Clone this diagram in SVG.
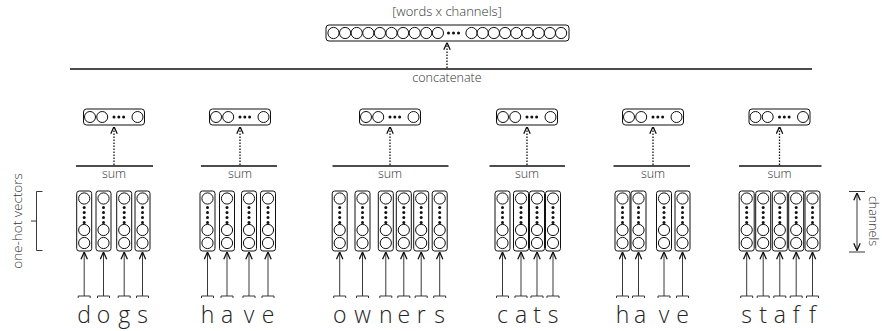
<svg xmlns="http://www.w3.org/2000/svg" xmlns:xlink="http://www.w3.org/1999/xlink" width="882" height="331" viewBox="0 0 882 331">
<style>
  .box{fill:#fff;stroke:#111;stroke-width:1}
  .cir{fill:#fff;stroke:#111;stroke-width:1}
  .dot{fill:#111}
  .bar{stroke:#111;stroke-width:1.6;fill:none}
  .thin{stroke:#222;stroke-width:0.9;fill:none}
  .dash{stroke:#111;stroke-width:1.3;stroke-dasharray:1.5 1.5;fill:none}
  .lbl{font-family:"Open Sans","Noto Sans","DejaVu Sans",sans-serif;font-weight:300;font-size:12.5px;fill:#333;text-anchor:middle}
  .ch{font-family:"Open Sans","Noto Sans","DejaVu Sans",sans-serif;font-weight:300;font-size:23px;fill:#222;text-anchor:middle}
</style>
<defs>
  <marker id="open" viewBox="0 0 10 10" refX="10" refY="5" markerUnits="userSpaceOnUse" markerWidth="8" markerHeight="8" orient="auto-start-reverse">
    <path d="M1,1 L10,5 L1,9" fill="none" stroke="#111" stroke-width="1.6"/>
  </marker>
  <g id="col">
    <rect class="box" x="-7.5" y="191" width="15" height="60" rx="2.5"/>
    <circle class="cir" cx="0" cy="198.5" r="5.6"/>
    <circle class="dot" cx="0" cy="207.5" r="1.5"/>
    <circle class="dot" cx="0" cy="212.5" r="1.5"/>
    <circle class="dot" cx="0" cy="217.5" r="1.5"/>
    <circle class="dot" cx="0" cy="222.5" r="1.5"/>
    <circle class="cir" cx="0" cy="230" r="5.6"/>
    <circle class="cir" cx="0" cy="243" r="5.6"/>
  </g>
  <g id="vec">
    <rect class="box" x="-30.5" y="109" width="61" height="16" rx="3"/>
    <circle class="cir" cx="-24" cy="117" r="5.5"/>
    <circle class="cir" cx="-11.8" cy="117" r="5.5"/>
    <circle class="dot" cx="0" cy="117" r="1.5"/>
    <circle class="dot" cx="4.8" cy="117" r="1.5"/>
    <circle class="dot" cx="9.6" cy="117" r="1.5"/>
    <circle class="cir" cx="23.5" cy="117" r="5.5"/>
  </g>
  <g id="inarrow">
    <line class="thin" x1="0" y1="296" x2="0" y2="252" marker-end="url(#open)"/>
    <path class="thin" d="M-6,298 V296 H6 V298"/>
  </g>
</defs>

<!-- top output -->
<g id="output">
  <text class="lbl" x="447" y="16" style="font-size:13px">[words x channels]</text>
  <rect class="box" x="326" y="25" width="243" height="16" rx="3"/>
  <g class="cir">
    <circle cx="333.5" cy="33" r="5.6"/><circle cx="345.1" cy="33" r="5.6"/><circle cx="356.7" cy="33" r="5.6"/><circle cx="368.3" cy="33" r="5.6"/><circle cx="379.9" cy="33" r="5.6"/>
    <circle cx="391.5" cy="33" r="5.6"/><circle cx="403.1" cy="33" r="5.6"/><circle cx="414.7" cy="33" r="5.6"/><circle cx="426.3" cy="33" r="5.6"/><circle cx="437.9" cy="33" r="5.6"/>
    <circle cx="471.5" cy="33" r="5.6"/><circle cx="482.7" cy="33" r="5.6"/><circle cx="493.9" cy="33" r="5.6"/><circle cx="505.1" cy="33" r="5.6"/><circle cx="516.3" cy="33" r="5.6"/>
    <circle cx="527.5" cy="33" r="5.6"/><circle cx="538.7" cy="33" r="5.6"/><circle cx="549.9" cy="33" r="5.6"/><circle cx="561.1" cy="33" r="5.6"/>
  </g>
  <circle class="dot" cx="448.5" cy="33" r="1.5"/><circle class="dot" cx="453.5" cy="33" r="1.5"/><circle class="dot" cx="458.5" cy="33" r="1.5"/>
</g>

<g id="concatenate">
  <line class="bar" x1="70" y1="69" x2="812" y2="69"/>
  <text class="lbl" x="447" y="82">concatenate</text>
</g>

<!-- word groups -->
<g id="word-dogs">
  <use xlink:href="#vec" x="114"/>
  <line class="bar" x1="76" y1="166" x2="153" y2="166"/>
  <text class="lbl" x="114" y="178">sum</text>
  <use xlink:href="#col" x="84.2"/><use xlink:href="#col" x="103.5"/><use xlink:href="#col" x="124.2"/><use xlink:href="#col" x="142.5"/>
  <text class="ch" x="84.2" y="323">d</text><text class="ch" x="103.5" y="323">o</text><text class="ch" x="124.2" y="323">g</text><text class="ch" x="142.5" y="323">s</text>
</g>
<g id="word-have-1">
  <use xlink:href="#vec" x="240"/>
  <line class="bar" x1="201" y1="166" x2="277" y2="166"/>
  <text class="lbl" x="240" y="178">sum</text>
  <use xlink:href="#col" x="207.5"/><use xlink:href="#col" x="227"/><use xlink:href="#col" x="249"/><use xlink:href="#col" x="268"/>
  <text class="ch" x="207.5" y="323">h</text><text class="ch" x="227" y="323">a</text><text class="ch" x="249" y="323">v</text><text class="ch" x="268" y="323">e</text>
</g>
<g id="word-owners">
  <use xlink:href="#vec" x="390"/>
  <line class="bar" x1="332.5" y1="166" x2="448.5" y2="166"/>
  <text class="lbl" x="390" y="178">sum</text>
  <use xlink:href="#col" x="339.7"/><use xlink:href="#col" x="362.5"/><use xlink:href="#col" x="385.8"/><use xlink:href="#col" x="403.8"/><use xlink:href="#col" x="421.2"/><use xlink:href="#col" x="439.7"/>
  <text class="ch" x="339.7" y="323">o</text><text class="ch" x="362.5" y="323">w</text><text class="ch" x="385.8" y="323">n</text><text class="ch" x="403.8" y="323">e</text><text class="ch" x="421.2" y="323">r</text><text class="ch" x="439.7" y="323">s</text>
</g>
<g id="word-cats">
  <use xlink:href="#vec" x="527"/>
  <line class="bar" x1="489.5" y1="166" x2="565" y2="166"/>
  <text class="lbl" x="527" y="178">sum</text>
  <use xlink:href="#col" x="502.5"/><use xlink:href="#col" x="521"/><use xlink:href="#col" x="537"/><use xlink:href="#col" x="553"/>
  <text class="ch" x="502.5" y="323">c</text><text class="ch" x="521" y="323">a</text><text class="ch" x="537" y="323">t</text><text class="ch" x="553" y="323">s</text>
</g>
<g id="word-have-2">
  <use xlink:href="#vec" x="653"/>
  <line class="bar" x1="613.5" y1="166" x2="690" y2="166"/>
  <text class="lbl" x="653" y="178">sum</text>
  <use xlink:href="#col" x="622.5"/><use xlink:href="#col" x="638.5"/><use xlink:href="#col" x="664"/><use xlink:href="#col" x="682.5"/>
  <text class="ch" x="622.5" y="323">h</text><text class="ch" x="640" y="323">a</text><text class="ch" x="664" y="323">v</text><text class="ch" x="682.5" y="323">e</text>
</g>
<g id="word-staff">
  <use xlink:href="#vec" x="779.5"/>
  <line class="bar" x1="739" y1="166" x2="821.5" y2="166"/>
  <text class="lbl" x="779.5" y="178">sum</text>
  <use xlink:href="#col" x="746.7"/><use xlink:href="#col" x="763.2"/><use xlink:href="#col" x="779.8"/><use xlink:href="#col" x="796.2"/><use xlink:href="#col" x="812.5"/>
  <text class="ch" x="746.7" y="323">s</text><text class="ch" x="763.2" y="323">t</text><text class="ch" x="779.8" y="323">a</text><text class="ch" x="796.2" y="323">f</text><text class="ch" x="812.5" y="323">f</text>
</g>

<!-- annotations -->
<g id="one-hot-label">
  <path class="thin" d="M42.5,191.5 H36.5 V250.5 H42.5 M36.5,221 H31"/>
  <text class="lbl" transform="translate(22,221) rotate(-90)" style="font-size:13.5px">one-hot vectors</text>
</g>
<g id="channels-label">
  <line class="thin" x1="849" y1="191.5" x2="865" y2="191.5"/>
  <line class="thin" x1="849" y1="252" x2="865" y2="252"/>
  <line class="thin" x1="857" y1="193" x2="857" y2="250.5" marker-start="url(#open)" marker-end="url(#open)"/>
  <text class="lbl" transform="translate(869,221) rotate(90)">channels</text>
</g>

<!-- connectors -->
<g id="connectors">
  <line class="dash" x1="447" y1="68" x2="447" y2="42.5" marker-end="url(#open)"/>
  <line class="dash" x1="114" y1="165" x2="114" y2="126.5" marker-end="url(#open)"/>
  <line class="dash" x1="240" y1="165" x2="240" y2="126.5" marker-end="url(#open)"/>
  <line class="dash" x1="390" y1="165" x2="390" y2="126.5" marker-end="url(#open)"/>
  <line class="dash" x1="527" y1="165" x2="527" y2="126.5" marker-end="url(#open)"/>
  <line class="dash" x1="653" y1="165" x2="653" y2="126.5" marker-end="url(#open)"/>
  <line class="dash" x1="779.5" y1="165" x2="779.5" y2="126.5" marker-end="url(#open)"/>
  <use xlink:href="#inarrow" x="84.2"/><use xlink:href="#inarrow" x="103.5"/><use xlink:href="#inarrow" x="124.2"/><use xlink:href="#inarrow" x="142.5"/>
  <use xlink:href="#inarrow" x="207.5"/><use xlink:href="#inarrow" x="227"/><use xlink:href="#inarrow" x="249"/><use xlink:href="#inarrow" x="268"/>
  <use xlink:href="#inarrow" x="339.7"/><use xlink:href="#inarrow" x="362.5"/><use xlink:href="#inarrow" x="385.8"/><use xlink:href="#inarrow" x="403.8"/><use xlink:href="#inarrow" x="421.2"/><use xlink:href="#inarrow" x="439.7"/>
  <use xlink:href="#inarrow" x="502.5"/><use xlink:href="#inarrow" x="521"/><use xlink:href="#inarrow" x="537"/><use xlink:href="#inarrow" x="553"/>
  <use xlink:href="#inarrow" x="622.5"/><use xlink:href="#inarrow" x="638.5"/><use xlink:href="#inarrow" x="664"/><use xlink:href="#inarrow" x="682.5"/>
  <use xlink:href="#inarrow" x="746.7"/><use xlink:href="#inarrow" x="763.2"/><use xlink:href="#inarrow" x="779.8"/><use xlink:href="#inarrow" x="796.2"/><use xlink:href="#inarrow" x="812.5"/>
</g>
</svg>
